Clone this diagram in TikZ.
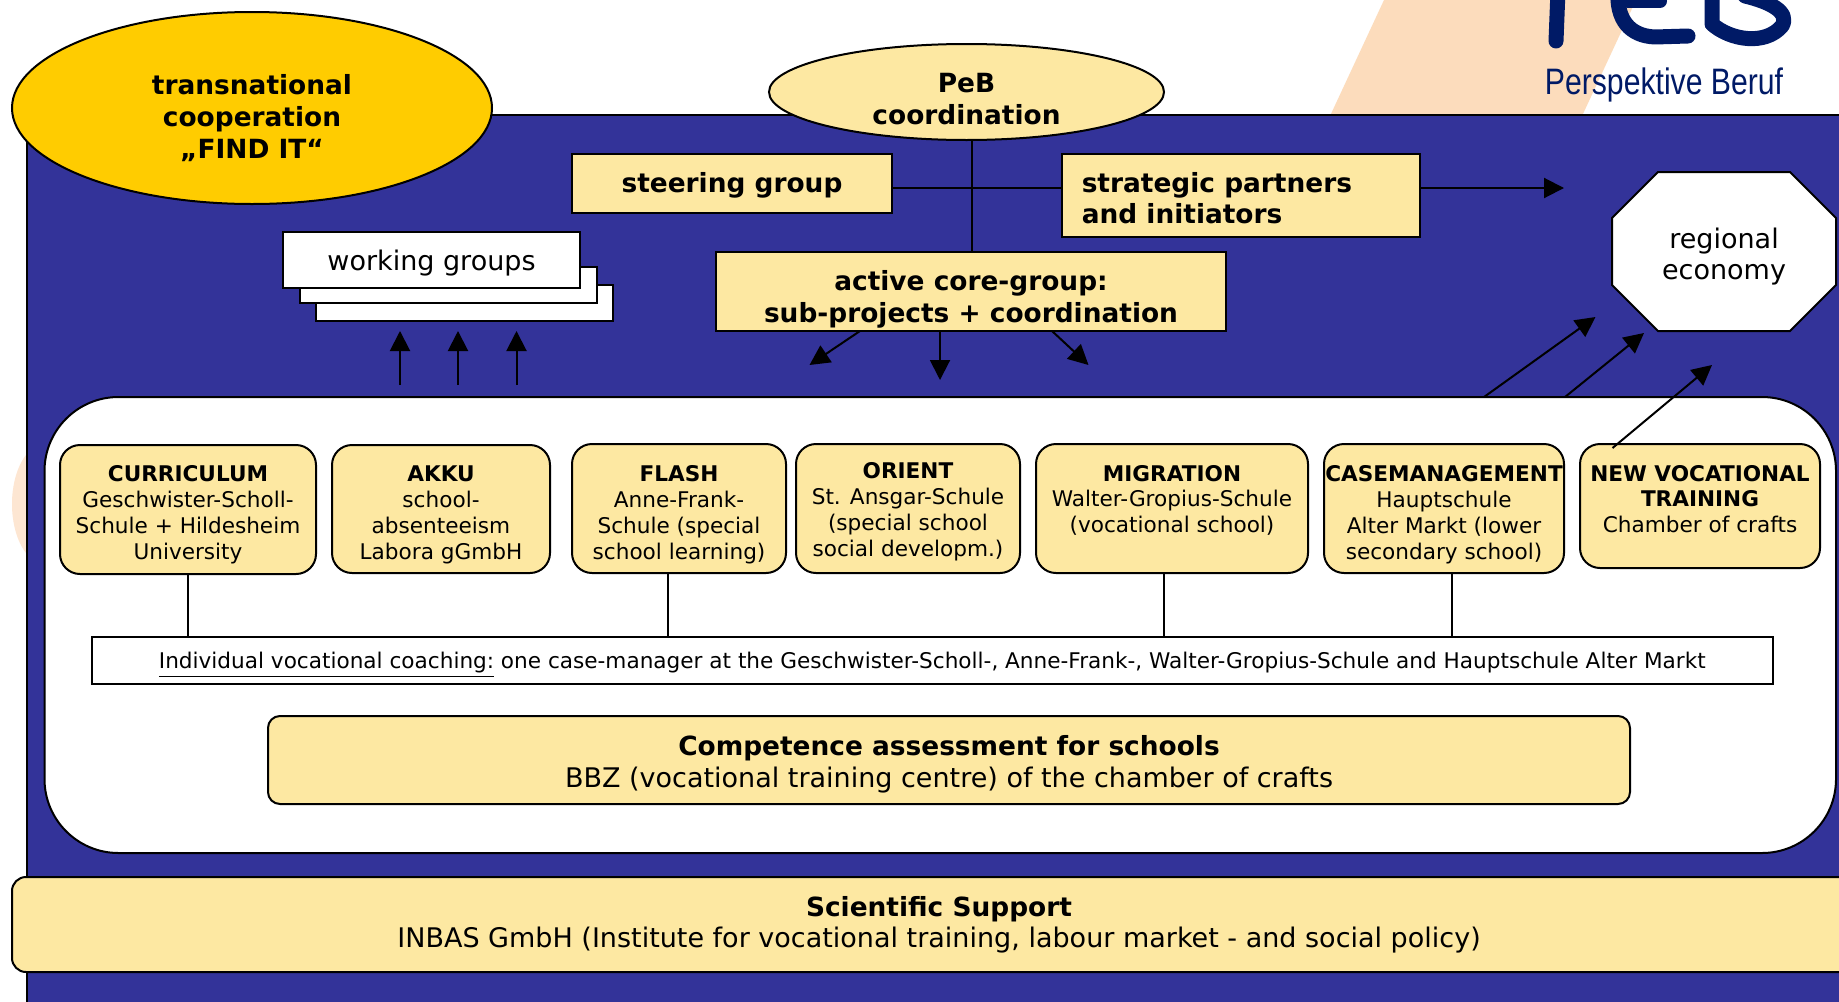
\documentclass[tikz,border=0pt]{standalone}
\usepackage{fontspec}
\setmainfont{DejaVu Sans}
\newfontfamily\logofont[FakeStretch=0.82]{Liberation Sans}
\usetikzlibrary{arrows.meta,shapes.geometric}
\definecolor{blueback}{HTML}{333399}
\definecolor{paleyellow}{HTML}{FDE8A2}
\definecolor{goldfill}{HTML}{FFCC00}
\definecolor{peachband}{HTML}{FCDCBC}
\definecolor{peachblob}{HTML}{FDE6D2}
\definecolor{navylogo}{HTML}{001A66}
\newcommand\smalltext{\fontsize{10.8}{12.9}\selectfont}
\newcommand\bigtext{\fontsize{13.5}{15.9}\selectfont}
\newcommand\bigbold{\fontsize{13.2}{15.9}\selectfont\bfseries}
\newcommand\sh[2]{\raisebox{\dimexpr-#1-0.25em\relax}[0pt][0pt]{\begin{tabular}{@{}c@{}}#2\end{tabular}}}
\newcommand\shl[2]{\raisebox{\dimexpr-#1-0.25em\relax}[0pt][0pt]{\makebox[159pt][l]{\begin{tabular}{@{}l@{}}#2\end{tabular}}}}
\newcommand\pxnode[7][]{%
  \pgfmathsetmacro\pxcx{(#3+#5)/2}\pgfmathsetmacro\pxcy{(#4+#6)/2}%
  \pgfmathsetmacro\pxw{(#5-#3)*0.5}\pgfmathsetmacro\pxh{(#6-#4)*0.5}%
  \node[#1,minimum width=\pxw pt,minimum height=\pxh pt] (#2) at (\pxcx,\pxcy) {#7};}
\tikzset{
  base/.style={draw=black,line width=1pt,inner sep=0pt,outer sep=0pt,text=black},
  card/.style={base,fill=paleyellow},
  whitecard/.style={base,fill=white},
  prog/.style={card,rounded corners=10pt,font=\smalltext},
  wide/.style={card,rounded corners=7pt,font=\bigtext},
  flat/.style={card,font=\bigbold},
  conn/.style={draw=black,line width=1pt},
  arr/.style={conn,-{Triangle[length=10pt,width=10pt]}},
}
\begin{document}
\begin{tikzpicture}[x=0.5pt,y=-0.5pt]
\path[use as bounding box,clip] (0,0) rectangle (1839,1001);
\fill[white] (0,0) rectangle (1839,1001);
% background art
\fill[peachband] (1330,116) -- (1384,0) -- (1636,0) -- (1582,116) -- cycle;
\fill[peachblob] (45,504) ellipse [x radius=33,y radius=60];
\draw[navylogo,line width=7.5pt,line cap=round] (1558,-10) -- (1556,41);
\draw[navylogo,line width=7.5pt,line cap=round,line join=round]
  (1618,-10) .. controls (1616,20) and (1630,36) .. (1655,37) -- (1688,36);
\draw[navylogo,line width=7pt,line cap=round] (1628,1) -- (1660,1);
\draw[navylogo,line width=7.5pt,line cap=round,line join=round]
  (1712,-10) -- (1712,24) .. controls (1730,40) and (1765,46) .. (1782,26)
  .. controls (1790,12) and (1770,2) .. (1745,-4);
\node[text=navylogo,font=\logofont\fontsize{18.4}{20}\selectfont,inner sep=0pt] (logotext) at (1664,85) {Perspektive Beruf};
% blue panel
\draw[fill=blueback,draw=black,line width=1pt] (27,115) rectangle (1860,1020);
% white panel
\pxnode[whitecard,rounded corners=37pt]{panel}{44.5}{397}{1836}{853}{}
% top ellipses
\pxnode[base,fill=goldfill,ellipse,font=\bigbold]{find}{12}{12}{492}{204}{\sh{5.8pt}{transnational\\cooperation\\„FIND IT“}}
\pxnode[card,ellipse,font=\bigbold]{peb}{769}{44}{1164}{140}{\sh{4.8pt}{PeB\\coordination}}
% top boxes
\pxnode[flat]{steer}{572}{154}{892}{213}{\sh{0.9pt}{steering group}}
\pxnode[flat]{strat}{1061.5}{154}{1420}{237}{\shl{2.8pt}{strategic partners\\and initiators}}
\pxnode[flat]{core}{716}{252}{1226}{331}{\sh{4pt}{active core-group:\\sub-projects + coordination}}
% working groups
\pxnode[whitecard]{wgc}{316}{285}{613}{321}{}
\pxnode[whitecard]{wgb}{300}{267}{597}{303}{}
\pxnode[whitecard,font=\bigtext]{wga}{283}{232}{580}{288}{\sh{2.3pt}{working groups}}
% regional economy
\draw[fill=white,draw=black,line width=1pt] (1658,172) -- (1790,172) -- (1836,218) -- (1836,285) -- (1790,331) -- (1658,331) -- (1612,285) -- (1612,218) -- cycle;
\node[font=\bigtext,inner sep=0pt] (econ) at (1724,252) {\sh{3pt}{regional\\economy}};
% programme boxes
\pxnode[prog]{cur}{60}{445}{316}{574}{\sh{3pt}{\textbf{CURRICULUM}\\Geschwister-Scholl-\\Schule + Hildesheim\\University}}
\pxnode[prog]{akku}{332}{445}{550}{573}{\sh{3.2pt}{\textbf{AKKU}\\school-\\absenteeism\\Labora gGmbH}}
\pxnode[prog]{flash}{572}{444}{786}{573}{\sh{3.4pt}{\textbf{FLASH}\\Anne-Frank-\\Schule (special\\school learning)}}
\pxnode[prog]{orient}{796}{444}{1020}{573}{\sh{1.9pt}{\textbf{ORIENT}\\St. Ansgar-Schule\\(special school\\social developm.)}}
\pxnode[prog]{migr}{1036}{444}{1308}{573}{\sh{-3.35pt}{\textbf{MIGRATION}\\Walter-Gropius-Schule\\(vocational school)}}
\pxnode[prog]{casem}{1324}{444}{1564}{573}{\sh{3.4pt}{\textbf{CASEMANAGEMENT}\\Hauptschule\\Alter Markt (lower\\secondary school)}}
\pxnode[prog]{newvoc}{1580}{444}{1820}{568}{\sh{-2.1pt}{\textbf{NEW VOCATIONAL}\\\textbf{TRAINING}\\Chamber of crafts}}
% coaching and lower bars
\pxnode[whitecard,font=\smalltext]{coach}{92}{636.5}{1772.5}{684}{\sh{1.9pt}{\underline{Individual vocational coaching:} one case-manager at the Geschwister-Scholl-, Anne-Frank-, Walter-Gropius-Schule and Hauptschule Alter Markt}}
\pxnode[wide,rounded corners=6pt]{comp}{268}{716}{1630}{804}{\sh{2.65pt}{\textbf{\fontsize{13.2}{15.9}\selectfont Competence assessment for schools}\\BBZ (vocational training centre) of the chamber of crafts}}
\pxnode[wide]{sci}{12}{877}{1866}{972}{}
\node[font=\bigtext,inner sep=0pt] (scitext) at (939,924.5) {\sh{0.8pt}{\textbf{\fontsize{13.2}{15.9}\selectfont Scientific Support}\\INBAS GmbH (Institute for vocational training, labour market - and social policy)}};
% free ends
\coordinate (vx) at (972,0);
\coordinate (hy) at (0,188);
\coordinate (stratend) at (1564,188);
\coordinate (ca) at (809.5,365); \coordinate (cas) at (860,331);
\coordinate (cb) at (940,380);   \coordinate (cbs) at (940,331);
\coordinate (cc) at (1088.5,365);\coordinate (ccs) at (1052,331);
\coordinate (ua) at (400,331); \coordinate (uas) at (400,385);
\coordinate (ub) at (458,331); \coordinate (ubs) at (458,385);
\coordinate (uc) at (516.5,331); \coordinate (ucs) at (516.5,385);
\coordinate (ea) at (1595.5,317); \coordinate (eas) at (1484,397);
\coordinate (eb) at (1644,333); \coordinate (ebs) at (1565,397);
\coordinate (ec) at (1712,365); \coordinate (ecs) at (1612.5,448);
\coordinate (fx) at (668,0); \coordinate (mx) at (1164,0); \coordinate (kx) at (1452,0);
% connectors
\draw[conn] (peb.south -| vx) -- (core.north -| vx);
\draw[conn] (steer.east |- hy) -- (strat.west |- hy);
\draw[arr] (strat.east |- hy) -- (stratend);
\draw[arr] (cas) -- (ca);
\draw[arr] (cbs) -- (cb);
\draw[arr] (ccs) -- (cc);
\draw[arr] (uas) -- (ua);
\draw[arr] (ubs) -- (ub);
\draw[arr] (ucs) -- (uc);
\draw[arr] (eas) -- (ea);
\draw[arr] (ebs) -- (eb);
\draw[arr] (ecs) -- (ec);
\draw[conn] (cur.south) -- (cur.south |- coach.north);
\draw[conn] (flash.south -| fx) -- (coach.north -| fx);
\draw[conn] (migr.south -| mx) -- (coach.north -| mx);
\draw[conn] (casem.south -| kx) -- (coach.north -| kx);
\end{tikzpicture}
\end{document}
